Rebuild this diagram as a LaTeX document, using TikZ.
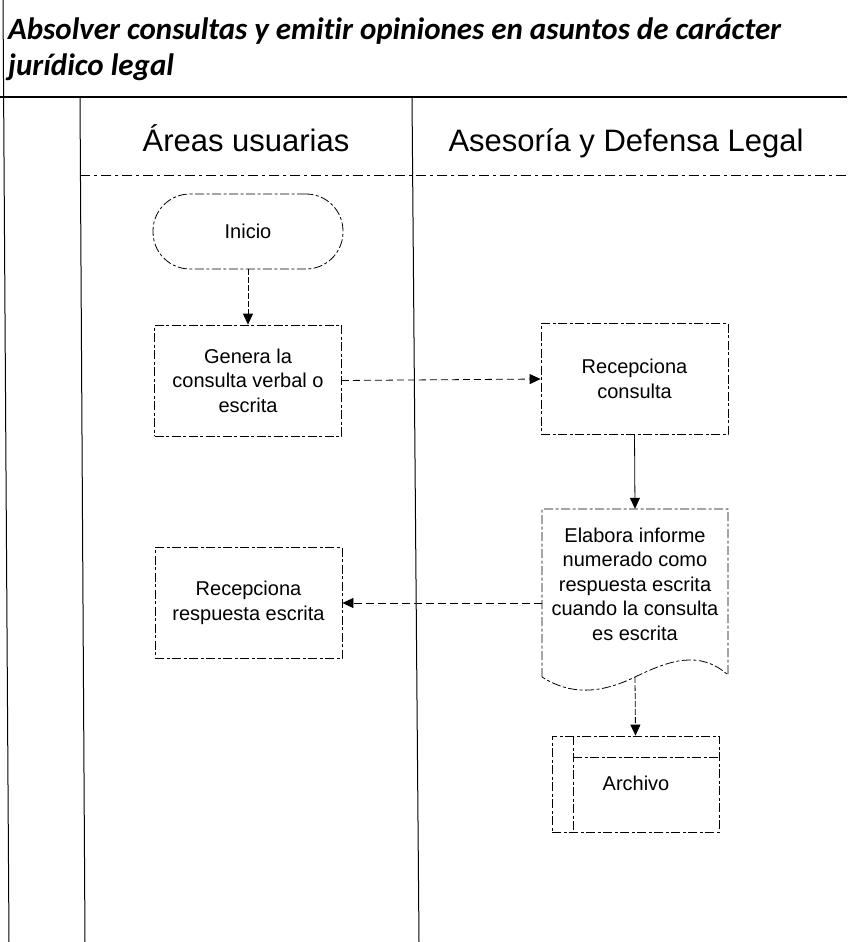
\documentclass[tikz,border=0pt]{standalone}
\usepackage{fontspec}
\setmainfont{Liberation Sans}
\newfontfamily\titlefont[Ligatures={NoCommon}]{Carlito}
\usetikzlibrary{arrows.meta,calc}
\tikzset{
  scanline/.style={line width=0.8pt, dash pattern=on 9pt off 2.5pt on 3pt off 2.5pt},
  procbox/.style={scanline, draw, rectangle, minimum width=187pt, minimum height=111pt, align=center, inner sep=0pt,
     font=\fontsize{20}{24.5}\selectfont},
  txt/.style={align=center, inner sep=0pt, font=\fontsize{20}{24.5}\selectfont},
  flow/.style={line width=0.8pt, -{Triangle[length=11pt,width=10pt]}},
  lanehead/.style={inner sep=0pt, anchor=base, font=\fontsize{31}{36}\selectfont},
  titletext/.style={inner sep=0pt, anchor=base west, font=\titlefont\bfseries\itshape\fontsize{31}{36}\selectfont},
  laneline/.style={line width=1pt}
}
\begin{document}
\begin{tikzpicture}[x=1pt,y=-1pt]
\useasboundingbox (0,0) rectangle (847,942);
\fill[white] (0,0) rectangle (847,942);

% title
\node[titletext] (t1) at (8,40) {Absolver consultas y emitir opiniones en asuntos de carácter};
\node[titletext] (t2) at (8,76) {jurídico legal};

% frame lines
\draw[laneline] (3,0) -- (9,942);
\draw[line width=1.2pt] (0,97) -- (847,97);
\draw[laneline] (80,97) -- (85,942);
\draw[laneline] (412,97) -- (419,942);
\draw[line width=0.8pt, dash pattern=on 10pt off 4pt on 3pt off 4pt] (80,175) -- (847,175);

% lane headers
\node[lanehead] (h1) at (246,151) {Áreas usuarias};
\node[lanehead] (h2) at (626,151) {Asesoría y Defensa Legal};

% nodes
\node[scanline, draw, rounded corners=37pt, minimum width=190pt, minimum height=75pt, txt] (in) at (248,231.5) {Inicio};
\node[procbox] (ge) at (248,380.5) {Genera la\\consulta verbal o\\escrita};
\node[procbox] (rc) at (634.5,379) {Recepciona\\consulta};
\node[procbox] (rr) at (248.5,603) {Recepciona\\respuesta escrita};

% document shape
\node[minimum width=186pt, minimum height=168pt, inner sep=0pt] (el) at (635,593) {};
\draw[scanline] (542,677) -- (542,509) -- (728,509) -- (728,675)
   .. controls (700,650) and (670,660) .. (635,677)
   .. controls (600,694) and (570,695) .. (542,677);
\node[txt] (elt) at (635,584) {Elabora informe\\numerado como\\respuesta escrita\\cuando la consulta\\es escrita};

% archive shape
\node[scanline, draw, rectangle, minimum width=167pt, minimum height=96pt, inner sep=0pt] (ar) at (635.5,784) {};
\draw[scanline] (573,736) -- (573,832);
\draw[scanline] (573,757) -- (719,757);
\node[txt] (art) at (636,783) {Archivo};

% connectors
\draw[flow, dash pattern=on 6pt off 2pt] (in.south) -- (ge.north);
\draw[flow, dash pattern=on 7pt off 4pt] (ge.east) -- (rc.west);
\draw[flow] (rc.south) -- (el.north);
\draw[flow, dash pattern=on 8pt off 4pt] (el.west |- rr.east) -- (rr.east);
\draw[flow, dash pattern=on 6pt off 2pt] (el.south) -- (ar.north);
\end{tikzpicture}
\end{document}
